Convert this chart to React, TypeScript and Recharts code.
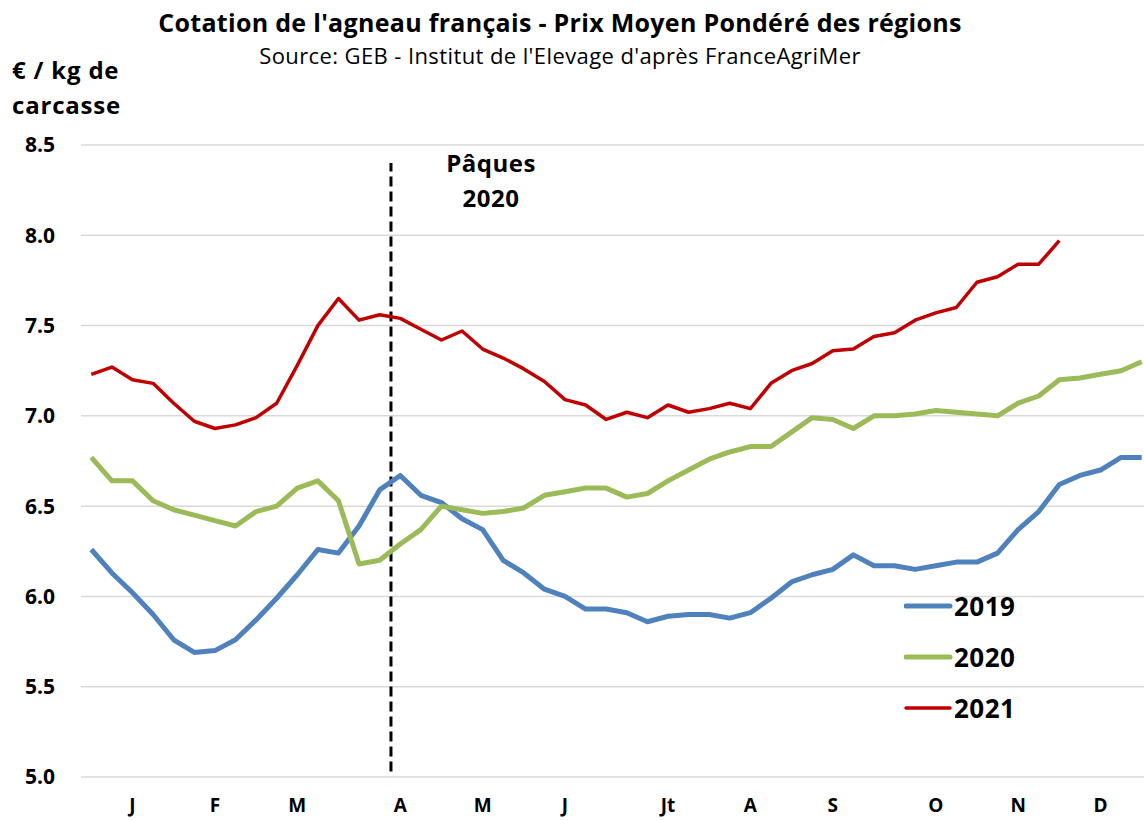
import React from "react";
import {
  LineChart,
  Line,
  XAxis,
  YAxis,
  CartesianGrid,
  ReferenceLine,
  Legend,
} from "recharts";

// weekly weighted average price, €/kg carcass
const y2019 = [
  6.26, 6.13, 6.02, 5.9, 5.76, 5.69, 5.7, 5.76, 5.87, 5.99,
  6.12, 6.26, 6.24, 6.39, 6.59, 6.67, 6.56, 6.52, 6.43, 6.37,
  6.2, 6.13, 6.04, 6.0, 5.93, 5.93, 5.91, 5.86, 5.89, 5.9,
  5.9, 5.88, 5.91, 5.99, 6.08, 6.12, 6.15, 6.23, 6.17, 6.17,
  6.15, 6.17, 6.19, 6.19, 6.24, 6.37, 6.47, 6.62, 6.67, 6.7,
  6.77, 6.77,
];
const y2020 = [
  6.77, 6.64, 6.64, 6.53, 6.48, 6.45, 6.42, 6.39, 6.47, 6.5,
  6.6, 6.64, 6.53, 6.18, 6.2, 6.29, 6.37, 6.5, 6.48, 6.46,
  6.47, 6.49, 6.56, 6.58, 6.6, 6.6, 6.55, 6.57, 6.64, 6.7,
  6.76, 6.8, 6.83, 6.83, 6.91, 6.99, 6.98, 6.93, 7.0, 7.0,
  7.01, 7.03, 7.02, 7.01, 7.0, 7.07, 7.11, 7.2, 7.21, 7.23,
  7.25, 7.3,
];
const y2021 = [
  7.23, 7.27, 7.2, 7.18, 7.07, 6.97, 6.93, 6.95, 6.99, 7.07,
  7.28, 7.5, 7.65, 7.53, 7.56, 7.54, 7.48, 7.42, 7.47, 7.37,
  7.32, 7.26, 7.19, 7.09, 7.06, 6.98, 7.02, 6.99, 7.06, 7.02,
  7.04, 7.07, 7.04, 7.18, 7.25, 7.29, 7.36, 7.37, 7.44, 7.46,
  7.53, 7.57, 7.6, 7.74, 7.77, 7.84, 7.84, 7.97,
];

const monthWeeks = [2, 6, 10, 15, 19, 23, 28, 32, 36, 41, 45, 49];
const monthLabels = ["J", "F", "M", "A", "M", "J", "Jt", "A", "S", "O", "N", "D"];
const priceTicks = [5, 5.5, 6, 6.5, 7, 7.5, 8, 8.5];
const easterWeek = 14.55;

const data = y2019.map((v, i) => ({
  week: i,
  "2019": v,
  "2020": y2020[i] ?? null,
  "2021": y2021[i] ?? null,
}));

const FONT = "'Open Sans', sans-serif";
const widths: Record<string, number> = { "2019": 5, "2020": 5, "2021": 3.5 };

function renderLegend(props: any) {
  const items = props.payload || [];
  return (
    <div style={{ fontFamily: FONT, fontWeight: 700, fontSize: 26, letterSpacing: 0.5, color: "#000" }}>
      {items.map((it: any) => (
        <div key={it.value} style={{ display: "flex", alignItems: "center", height: 51 }}>
          <svg width={50} height={10}>
            <line x1={2} y1={5} x2={46} y2={5} stroke={it.color} strokeWidth={widths[it.value]} strokeLinecap="round" />
          </svg>
          <span>{it.value}</span>
        </div>
      ))}
    </div>
  );
}

export default function App() {
  return (
    <div
      style={{
        position: "absolute",
        left: 0,
        top: 0,
        width: 1144,
        height: 821,
        overflow: "hidden",
        background: "#fff",
        fontFamily: FONT,
        color: "#000",
      }}
    >
      <div style={{ position: "absolute", left: 0, width: 1120, top: 5, textAlign: "center", fontWeight: 700, fontSize: 25, letterSpacing: 0.3 }}>
        Cotation de l'agneau français - Prix Moyen Pondéré des régions
      </div>
      <div style={{ position: "absolute", left: 0, width: 1120, top: 40, textAlign: "center", fontSize: 22, letterSpacing: 0.4 }}>
        Source: GEB - Institut de l'Elevage d'après FranceAgriMer
      </div>
      <div style={{ position: "absolute", left: 12, top: 52, fontWeight: 700, fontSize: 24, letterSpacing: 0.8, lineHeight: "35px" }}>
        € / kg de
        <br />
        carcasse
      </div>
      <div style={{ position: "absolute", left: 420, width: 142, top: 145, textAlign: "center", fontWeight: 700, fontSize: 24, letterSpacing: 0.5, lineHeight: "35px" }}>
        Pâques
        <br />
        2020
      </div>
      <LineChart width={1180} height={821} data={data} margin={{ top: 145, right: 28, bottom: 0, left: 0 }}>
        <CartesianGrid horizontal vertical={false} stroke="#d9d9d9" strokeWidth={1.5} />
        <XAxis
          dataKey="week"
          type="number"
          domain={[-0.5, 51.5]}
          ticks={monthWeeks}
          tickFormatter={(w: number) => monthLabels[monthWeeks.indexOf(w)] ?? ""}
          axisLine={false}
          tickLine={false}
          tickSize={0}
          tickMargin={22}
          height={44}
          interval={0}
          tick={{ fill: "#000", fontSize: 19, fontWeight: 700, fontFamily: FONT }}
        />
        <YAxis
          domain={[5, 8.5]}
          ticks={priceTicks}
          tickFormatter={(v: number) => v.toFixed(1)}
          axisLine={false}
          tickLine={false}
          tickSize={0}
          tickMargin={26}
          width={81}
          interval={0}
          tick={{ fill: "#000", fontSize: 21, fontWeight: 700, fontFamily: FONT }}
        />
        <ReferenceLine
          segment={[
            { x: easterWeek, y: 5.03 },
            { x: easterWeek, y: 8.4 },
          ]}
          stroke="#000"
          strokeWidth={3}
          strokeDasharray="10 5"
        />
        <Line type="linear" dataKey="2019" name="2019" stroke="#4F81BD" strokeWidth={5} dot={false} strokeLinejoin="round" isAnimationActive={false} />
        <Line type="linear" dataKey="2020" name="2020" stroke="#9BBB59" strokeWidth={5} dot={false} strokeLinejoin="round" isAnimationActive={false} />
        <Line type="linear" dataKey="2021" name="2021" stroke="#C00000" strokeWidth={3.5} dot={false} strokeLinejoin="round" isAnimationActive={false} />
        <Legend
          layout="vertical"
          align="center"
          verticalAlign="middle"
          content={renderLegend}
          wrapperStyle={{ left: 904, top: 580, width: 170, bottom: "auto", right: "auto" }}
        />
      </LineChart>
    </div>
  );
}
